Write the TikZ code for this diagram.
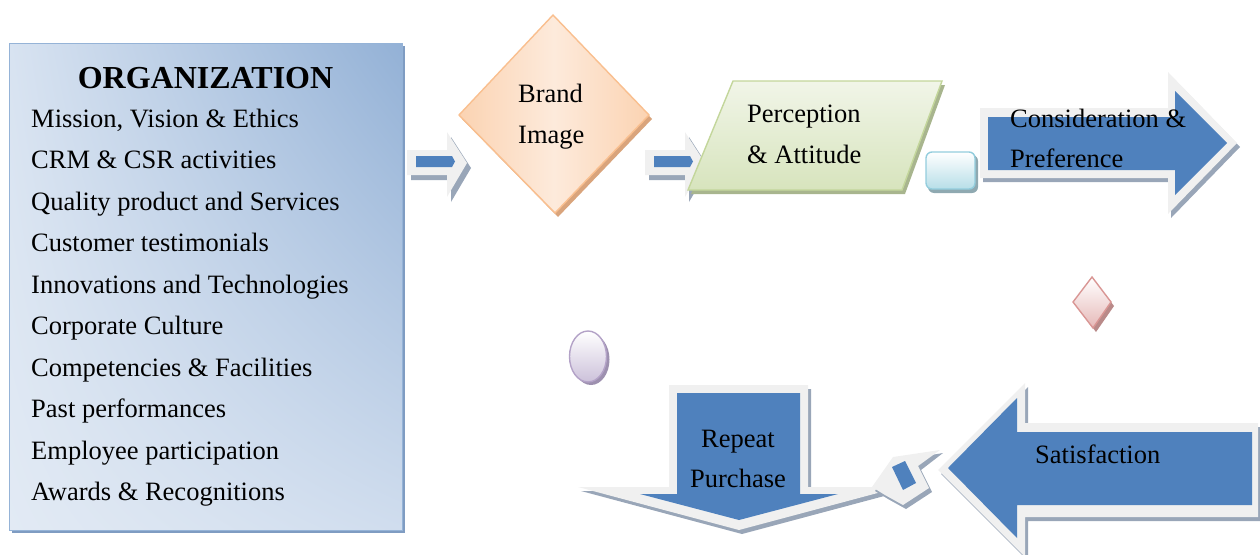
\documentclass[tikz,border=0pt]{standalone}
\usepackage{fontspec}
\setmainfont{Liberation Serif}
\usetikzlibrary{shadings}
\definecolor{arrowblue}{HTML}{4F81BD}
\definecolor{arrowgray}{HTML}{F0F0F0}
\definecolor{arrowshadow}{HTML}{99A6B8}
\definecolor{orgA}{HTML}{D8E3F1}
\definecolor{orgB}{HTML}{93B1D6}
\definecolor{orgC}{HTML}{E2EAF4}
\definecolor{orgD}{HTML}{D0DDEE}
\definecolor{orgborder}{HTML}{95B3D7}
\definecolor{orgshadow}{HTML}{7F9CC2}
\definecolor{peachA}{HTML}{FBD3B2}
\definecolor{peachB}{HTML}{FDEADB}
\definecolor{peachborder}{HTML}{F9BF8F}
\definecolor{peachshadow}{HTML}{D9A47C}
\definecolor{greenA}{HTML}{F1F5E8}
\definecolor{greenB}{HTML}{D7E4BD}
\definecolor{greenborder}{HTML}{C3D69B}
\definecolor{greenshadow}{HTML}{A8B58E}
\definecolor{cyanB}{HTML}{B7DEE8}
\definecolor{cyanborder}{HTML}{93CDDD}
\definecolor{cyanshadow}{HTML}{8FA9B1}
\definecolor{lilacB}{HTML}{CCC1DA}
\definecolor{lilacborder}{HTML}{B3A2C7}
\definecolor{lilacshadow}{HTML}{9D90AF}
\definecolor{pinkB}{HTML}{E6B9B8}
\definecolor{pinkborder}{HTML}{D99694}
\definecolor{pinkshadow}{HTML}{B98A89}
\begin{document}
\begin{tikzpicture}[x=1pt,y=-1pt,
  txt/.style={font=\fontsize{26.5}{30}\selectfont, inner sep=0pt},
  txtw/.style={txt, anchor=base west},
  txtc/.style={txt, anchor=base},
  outerarrow/.style={fill=arrowgray},
  arrowshade/.style={fill=arrowshadow},
  innerarrow/.style={fill=arrowblue},
  edge/.style={line width=1.4pt, line join=miter}]
\useasboundingbox (0,0) rectangle (1260,554);

% ---------------- Organization box
\fill[orgshadow] (12,46) rectangle (405,533);
\shade[upper left=orgA, upper right=orgB, lower left=orgC, lower right=orgD] (9,43) rectangle (402,530);
\draw[orgborder, line width=1pt] (9,43) rectangle (402,530);
\node[font=\fontsize{32}{36}\selectfont\bfseries, inner sep=0pt, anchor=base] (orgtitle) at (205.5,88) {ORGANIZATION};
\foreach \t [count=\i from 0] in {Mission{,} Vision \& Ethics, CRM \& CSR activities, Quality product and Services, Customer testimonials, Innovations and Technologies, Corporate Culture, Competencies \& Facilities, Past performances, Employee participation, Awards \& Recognitions}
  \node[txtw] (item\i) at (31,127+41.5*\i) {\t};

% ---------------- small arrows
\foreach \dx/\nm in {0/sa, 238/sb}{
  \begin{scope}[xshift=\dx pt]
    \fill[arrowshade] (411,155) -- (451,155) -- (451,137) -- (471,168) -- (451,202) -- (451,180) -- (411,180) -- cycle;
    \fill[outerarrow] (407,150) -- (447,150) -- (447,132) -- (467,163) -- (447,197) -- (447,175) -- (407,175) -- cycle;
    \fill[innerarrow] (416,156) -- (452,156) -- (455,161.5) -- (452,167) -- (416,167) -- cycle;
    \coordinate (\nm) at (437,163);
  \end{scope}}

% ---------------- Brand Image diamond
\fill[peachshadow] (556,19) -- (652,119) -- (558,217) -- (462,119) -- cycle;
\shade[left color=peachA, right color=peachA, middle color=peachB] (553,15) -- (649,115) -- (555,213) -- (459,115) -- cycle;
\draw[peachborder, edge] (553,15) -- (649,115) -- (555,213) -- (459,115) -- cycle;
\node[txtw] (brand1) at (518,102) {Brand};
\node[txtw] (brand2) at (518,143) {Image};

% ---------------- Perception parallelogram
\fill[greenshadow] (736,85) -- (945,85) -- (905,194) -- (691,194) -- cycle;
\shade[top color=greenA, bottom color=greenB] (733,81) -- (942,81) -- (902,190) -- (688,190) -- cycle;
\draw[greenborder, edge] (733,81) -- (942,81) -- (902,190) -- (688,190) -- cycle;
\node[txtw] (perc1) at (747,122) {Perception};
\node[txtw] (perc2) at (747,163) {\& Attitude};

% ---------------- small rounded rectangle
\fill[cyanshadow, rounded corners=6pt] (928,155) rectangle (978,193);
\shade[top color=white, bottom color=cyanB, rounded corners=6pt] (926,152) rectangle (975,189);
\draw[cyanborder, line width=1.4pt, rounded corners=6pt] (926,152) rectangle (975,189);
\coordinate (rr) at (950,170);

% ---------------- Consideration arrow
\fill[arrowshade] (983,112) -- (1171,112) -- (1171,76) -- (1240,147) -- (1171,218) -- (1171,182) -- (983,182) -- cycle;
\fill[outerarrow] (980,108) -- (1168,108) -- (1168,72) -- (1237,143) -- (1168,214) -- (1168,178) -- (980,178) -- cycle;
\fill[innerarrow] (988,117) -- (1175,117) -- (1175,91) -- (1227,143) -- (1175,195) -- (1175,170) -- (988,170) -- cycle;
\node[txtw] (cons1) at (1010,127) {Consideration \&};
\node[txtw] (cons2) at (1010,167) {Preference};

% ---------------- small pink diamond
\fill[pinkshadow] (1095,281) -- (1114,306) -- (1096,332) -- (1076,306) -- cycle;
\shade[top color=white, bottom color=pinkB] (1092,277) -- (1111,302) -- (1093,328) -- (1073,302) -- cycle;
\draw[pinkborder, edge] (1092,277) -- (1111,302) -- (1093,328) -- (1073,302) -- cycle;

% ---------------- small lilac ellipse
\fill[lilacshadow] (591,359.5) ellipse [x radius=18.5, y radius=25.5];
\shade[top color=white, bottom color=lilacB] (588,356.5) ellipse [x radius=18.5, y radius=25.5];
\draw[lilacborder, line width=1.4pt] (588,356.5) ellipse [x radius=18.5, y radius=25.5];

% ---------------- Repeat Purchase down arrow
\fill[arrowshade] (672,389) -- (811,389) -- (811,491) -- (903,491) -- (742,534) -- (581,491) -- (672,491) -- cycle;
\fill[outerarrow] (669,385) -- (808,385) -- (808,487) -- (900,487) -- (739,530) -- (578,487) -- (669,487) -- cycle;
\fill[innerarrow] (677,393) -- (800,393) -- (800,494) -- (838,494) -- (739,520) -- (640,494) -- (677,494) -- cycle;
\node[txtc] (rep1) at (738,447) {Repeat};
\node[txtc] (rep2) at (738,487) {Purchase};

% ---------------- small tilted connector
\fill[arrowshade] (875,491) -- (896,461) -- (943,453) -- (921,470) -- (932,492) -- (906,509) -- (888,499) -- cycle;
\fill[outerarrow] (872,487) -- (893,457) -- (940,450) -- (918,466) -- (929,488) -- (903,505) -- (885,495) -- cycle;
\fill[innerarrow] (892,467) -- (905,461) -- (916,483) -- (903,490) -- cycle;

% ---------------- Satisfaction arrow
\fill[arrowshade] (1028,427) -- (1261,427) -- (1261,521) -- (1028,521) -- (1028,561) -- (941,474) -- (1028,387) -- cycle;
\fill[outerarrow] (1025,423) -- (1258,423) -- (1258,517) -- (1025,517) -- (1025,557) -- (938,470) -- (1025,383) -- cycle;
\fill[innerarrow] (1017,432) -- (1252,432) -- (1252,505) -- (1017,505) -- (1017,538) -- (948,468) -- (1017,398) -- cycle;
\node[txtw] (sat) at (1035,463) {Satisfaction};
\end{tikzpicture}
\end{document}
